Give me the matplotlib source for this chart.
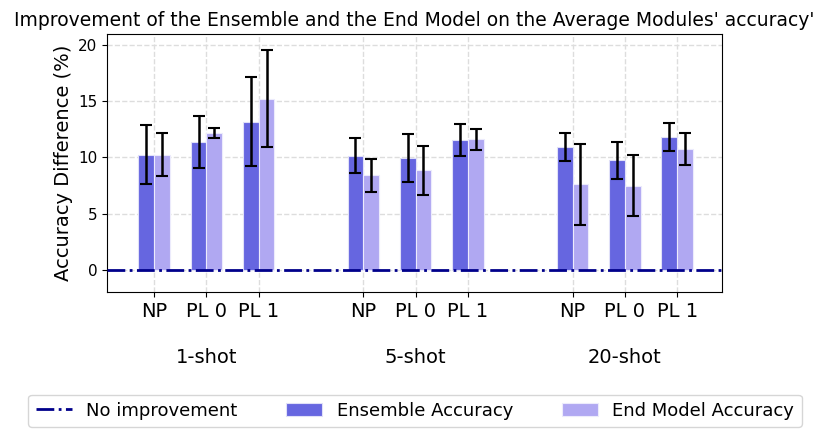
import numpy as np
import matplotlib
matplotlib.use("Agg")
import matplotlib.pyplot as plt

groups = ["1-shot", "5-shot", "20-shot"]
methods = ["NP", "PL 0", "PL 1"]

ens_mean = [10.25, 11.4, 13.2, 10.15, 9.95, 11.55, 10.9, 9.75, 11.85]
ens_err = [2.6, 2.3, 4.0, 1.55, 2.15, 1.4, 1.25, 1.65, 1.25]
end_mean = [10.25, 12.2, 15.25, 8.4, 8.85, 11.6, 7.6, 7.5, 10.75]
end_err = [1.9, 0.45, 4.35, 1.5, 2.2, 0.95, 3.6, 2.75, 1.45]

x = np.array([0, 1, 2, 4, 5, 6, 8, 9, 10])
w = 0.3

fig, ax = plt.subplots(figsize=(8.3, 4.36), dpi=100)
fig.subplots_adjust(left=0.129, right=0.870, top=0.922, bottom=0.330)

nl = ax.axhline(0, color="#00008b", linestyle="-.", linewidth=2, label="No improvement", zorder=3)
b1 = ax.bar(x - w / 2, ens_mean, w, yerr=ens_err, color="#6666e0", edgecolor="#e0e0f8",
            linewidth=0.8, capsize=4.5, error_kw=dict(elinewidth=1.8, capthick=1.5),
            label="Ensemble Accuracy", zorder=2)
b2 = ax.bar(x + w / 2, end_mean, w, yerr=end_err, color="#b0a8f2", edgecolor="#ecebfc",
            linewidth=0.8, capsize=4.5, error_kw=dict(elinewidth=1.8, capthick=1.5),
            label="End Model Accuracy", zorder=2)

ax.set_xticks(x)
ax.set_xticklabels(methods * 3, fontsize=14)
ax.tick_params(axis="y", labelsize=11)
ax.set_xlim(-0.9, 10.86)
ax.set_ylim(-2, 21)
ax.set_yticks([0, 5, 10, 15, 20])
ax.grid(True, linestyle="--", color="#dddddd", linewidth=1)
ax.set_axisbelow(True)

for i, g in enumerate(groups):
    ax.text(x[3 * i + 1], -0.252, g, transform=ax.get_xaxis_transform(),
            ha="center", va="center", fontsize=14)

ax.set_ylabel("Accuracy Difference (%)", fontsize=14)
ax.set_title("Improvement of the Ensemble and the End Model on the Average Modules' accuracy'",
             fontsize=13.5)

fig.legend(handles=[nl, b1, b2], loc="lower center", ncol=3, fontsize=13,
           bbox_to_anchor=(0.5, 0.0), frameon=True, columnspacing=2.7)

fig.savefig("out.png", dpi=100)
